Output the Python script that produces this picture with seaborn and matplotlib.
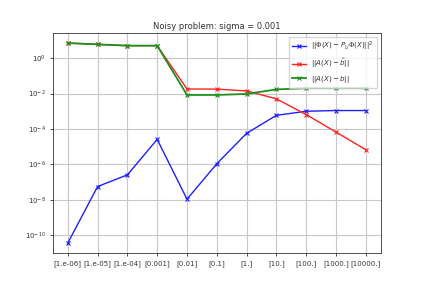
import matplotlib
matplotlib.use("Agg")
import matplotlib.pyplot as plt
import seaborn as sns
import numpy as np
import pandas as pd

x_labels = ["[1.e-06]", "[1.e-05]", "[1.e-04]", "[0.001]", "[0.01]", "[0.1]",
            "[1.]", "[10.]", "[100.]", "[1000.]", "[10000.]"]
proj_err = [3.7e-11, 5.7e-8, 2.6e-7, 2.6e-5, 1.1e-8, 1.1e-6,
            5.7e-5, 5.9e-4, 1.0e-3, 1.1e-3, 1.1e-3]
noisy_res = [7.0, 5.9, 5.0, 5.0, 0.018, 0.0177, 0.014, 0.005, 6.5e-4, 6.7e-5, 6.8e-6]
true_res = [7.0, 5.9, 5.0, 5.0, 0.0083, 0.0083, 0.0095, 0.017, 0.020, 0.020, 0.020]
y_ticks = [1e0, 1e-2, 1e-4, 1e-6, 1e-8, 1e-10]

labels = [r"$||\Phi(X) - P_U\Phi(X)||^2$", r"$||A(X) - \tilde{b}||$", r"$||A(X) - b||$"]
colors = ["#1f1fff", "#ff2020", "#1f8f1f"]
widths = [1.0, 1.0, 1.3]

plt.rcParams.update({
    "font.size": 5.0,
    "axes.titlesize": 6.0,
    "axes.linewidth": 0.6,
    "axes.edgecolor": "#333333",
    "xtick.major.width": 0.6,
    "ytick.major.width": 0.6,
    "xtick.major.size": 2.5,
    "ytick.major.size": 2.5,
    "xtick.major.pad": 2.5,
    "ytick.major.pad": 2.5,
    "legend.fontsize": 5.0,
    "text.color": "#333333",
    "xtick.color": "#333333",
    "ytick.color": "#333333",
})

fig, ax = plt.subplots(figsize=(4.23, 2.85), dpi=100)
pos = np.arange(len(x_labels))
for vals, lab, col, lw in zip([proj_err, noisy_res, true_res], labels, colors, widths):
    df = pd.DataFrame({"x": pos, "y": vals})
    sns.lineplot(data=df, x="x", y="y", ax=ax, color=col, marker="x",
                 markeredgecolor=col, label=lab, linewidth=lw,
                 markersize=3.5, markeredgewidth=0.8)
ax.set_yscale("log")
ax.set_yticks(y_ticks)
ax.minorticks_off()
ax.set_xticks(pos)
ax.set_xticklabels(x_labels)
ax.set_xlabel("")
ax.set_ylabel("")
ax.grid(True, which="major", linewidth=0.8, color="#c8c8c8")
ax.set_title("Noisy problem: sigma = 0.001", pad=3)
ax.legend(loc="upper right", borderpad=0.5, labelspacing=0.5, handlelength=2.0)
fig.subplots_adjust(left=0.125, right=0.9, top=0.884, bottom=0.112)
fig.savefig("out.png", dpi=100)
